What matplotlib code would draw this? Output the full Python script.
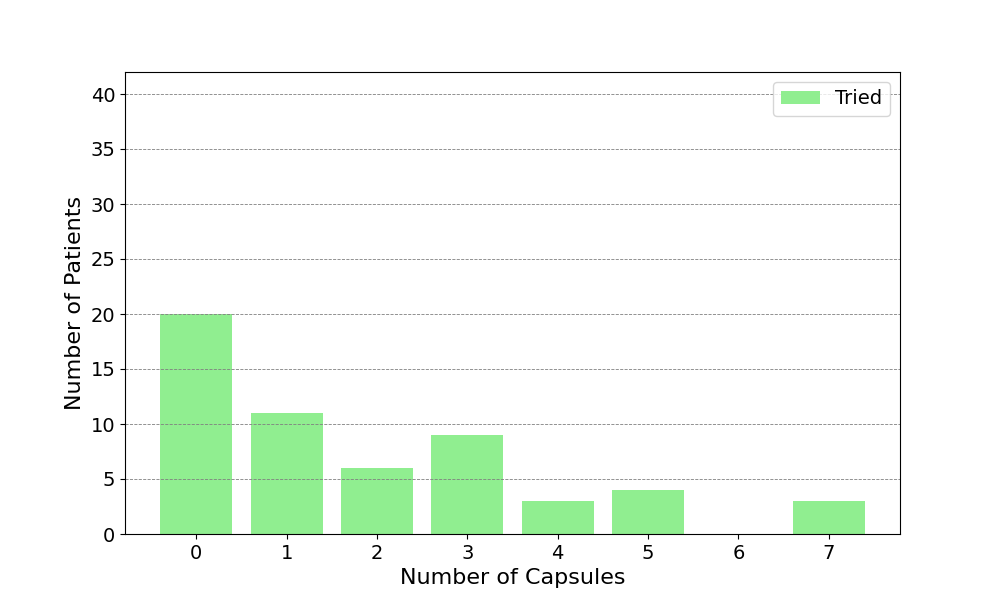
import numpy as np
import matplotlib.pyplot as plt

capsules = [0, 1, 2, 3, 4, 5, 6, 7]
tried = [20, 11, 6, 9, 3, 4, 0, 3]

fig, ax = plt.subplots(figsize=(10, 6), dpi=100)

ax.bar(capsules, tried, color="lightgreen", label="Tried")
ax.set_ylim(0, 42)
ax.set_xticks(capsules)
ax.set_yticks(np.arange(0, 41, 5))
# grid sits over the bars, as in the original
ax.yaxis.grid(True, linestyle="--", color="gray", linewidth=0.6, zorder=3)

ax.set_xlabel("Number of Capsules", fontsize=16)
ax.set_ylabel("Number of Patients", fontsize=16)
ax.tick_params(axis="both", labelsize=14)
ax.legend(fontsize=14, loc="upper right")

plt.savefig("out.png", dpi=100)
